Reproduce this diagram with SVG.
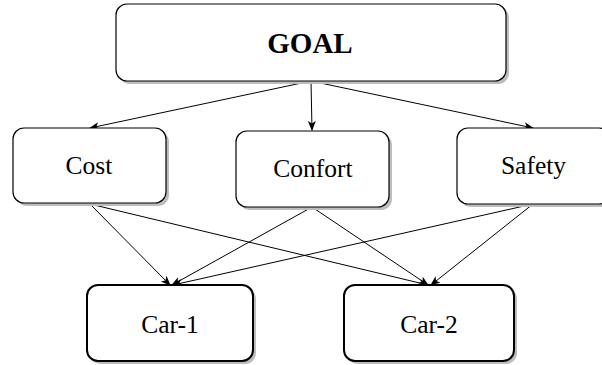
<svg xmlns="http://www.w3.org/2000/svg" width="602" height="365" viewBox="0 0 602 365">
<style>
.box{fill:#fff;stroke:#000;stroke-width:1.2}
.box2{fill:#fff;stroke:#000;stroke-width:2}
.sh{fill:#bdbdbd;stroke:none}
.t{font-family:"Liberation Serif","Times New Roman",serif;font-size:25.5px;fill:#000;text-anchor:middle}
.tb{font-weight:bold;font-size:29px}
.c{stroke:#000;stroke-width:1;fill:none;marker-end:url(#ah)}
</style>
<defs>
<marker id="ah" viewBox="0 0 10 10" refX="9" refY="5" markerWidth="10" markerHeight="10" markerUnits="userSpaceOnUse" orient="auto">
<path d="M0,1 L10,5 L0,9 L2.5,5 Z" fill="#000"/>
</marker>
</defs>
<g id="connectors">
<line class="c" x1="311" y1="81" x2="90" y2="128"/>
<line class="c" x1="311" y1="81" x2="312" y2="130"/>
<line class="c" x1="311" y1="81" x2="533" y2="128"/>
<line class="c" x1="90" y1="204" x2="170" y2="285"/>
<line class="c" x1="90" y1="204" x2="428" y2="285"/>
<line class="c" x1="312" y1="207" x2="172" y2="285"/>
<line class="c" x1="312" y1="207" x2="428" y2="285"/>
<line class="c" x1="533" y1="204" x2="173" y2="285"/>
<line class="c" x1="533" y1="204" x2="431" y2="285"/>
</g>
<g id="goal">
<rect class="sh" x="119" y="7" width="390" height="77" rx="11"/>
<rect class="box" x="116" y="4" width="390" height="77" rx="11"/>
<text class="t tb" x="310" y="53">GOAL</text>
</g>
<g id="cost">
<rect class="sh" x="16" y="131" width="153" height="75" rx="11"/>
<rect class="box" x="13" y="128" width="153" height="75" rx="11"/>
<text class="t" x="89" y="174">Cost</text>
</g>
<g id="confort">
<rect class="sh" x="239" y="134" width="153" height="76" rx="11"/>
<rect class="box" x="236" y="131" width="153" height="76" rx="11"/>
<text class="t" x="313" y="177">Confort</text>
</g>
<g id="safety">
<rect class="sh" x="460" y="131" width="153" height="76" rx="11"/>
<rect class="box" x="457" y="128" width="153" height="76" rx="11"/>
<text class="t" x="533.5" y="174">Safety</text>
</g>
<g id="car1">
<rect class="sh" x="90" y="288" width="166" height="76" rx="11"/>
<rect class="box2" x="87" y="285" width="166" height="76" rx="11"/>
<text class="t" x="170" y="333">Car-1</text>
</g>
<g id="car2">
<rect class="sh" x="347" y="288" width="170" height="76" rx="11"/>
<rect class="box2" x="344" y="285" width="170" height="76" rx="11"/>
<text class="t" x="429" y="333">Car-2</text>
</g>
</svg>
